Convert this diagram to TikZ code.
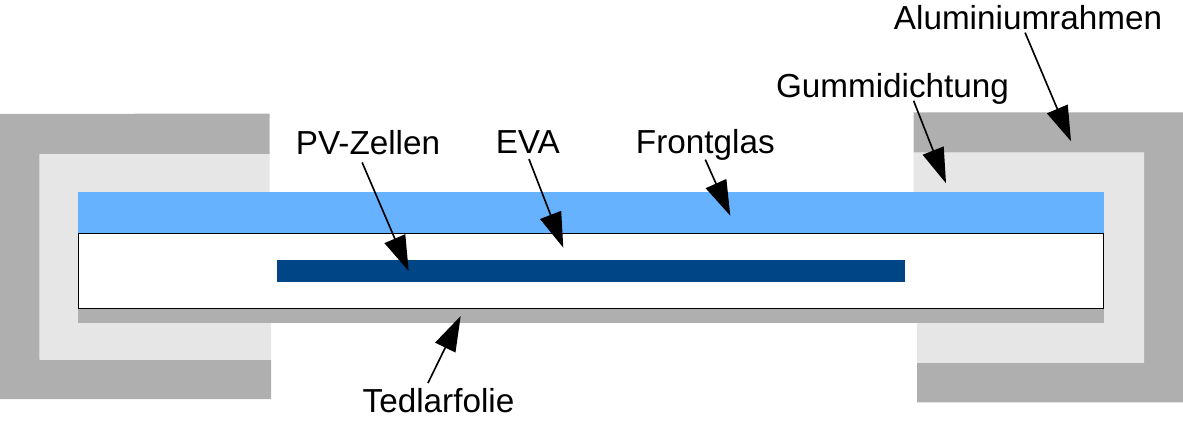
\documentclass[tikz,border=0pt]{standalone}
\usepackage{fontspec}
\setmainfont{Liberation Sans}
\usetikzlibrary{arrows.meta}
\definecolor{framegray}{HTML}{AFAFAF}
\definecolor{sealgray}{HTML}{E6E6E6}
\definecolor{glassblue}{HTML}{66B2FF}
\definecolor{cellblue}{HTML}{004586}
\begin{document}
\begin{tikzpicture}[x=0.03cm,y=-0.03cm,line join=miter,>={Triangle[length=30pt,width=19pt]},font=\fontsize{28.4}{34}\selectfont]
            \tikzset{lbl/.style={anchor=base,inner sep=0pt,text height=20pt,text depth=5pt},
                pointer/.style={->,line width=1.4pt,black}}
            \useasboundingbox (0,0) rectangle (1183,422);
            % frame, left and right
            \fill[framegray] (0,114)--(269.5,113.5)--(269.5,154)--(39.5,154)--(39.5,359.5)--(271,359.5)--(271,399)--(0,399)--cycle;
            \fill[framegray] (913.7,112.3)--(1183,112.3)--(1183,402.3)--(917,402.3)--(917,362.7)--(1144,362.7)--(1144,152.7)--(913.7,152.7)--cycle;
            % seal
            \fill[sealgray] (39.5,154)--(269.5,154)--(269.5,192)--(271,323)--(271,359.5)--(39.5,359.5)--cycle;
            \fill[sealgray] (913.7,152.7)--(1144,152.7)--(1144,362.7)--(917,362.7)--(917,323)--(913.7,192)--cycle;
            % layers
            \fill[framegray] (78,300) rectangle (1104,323);
            \fill[glassblue] (78,192) rectangle (1104,233.5);
            \draw[fill=white,line width=0.8pt] (78.5,233.5) rectangle (1103.5,308);
            \fill[cellblue] (276.7,260.3) rectangle (905.3,281.7);
            % labels
            \foreach \nm/\txt/\x/\y in {lblAlu/Aluminiumrahmen/1028/30,lblGum/Gummidichtung/892.5/97,lblPV/PV-Zellen/368/154,lblEVA/EVA/527.8/153,lblFront/Frontglas/705.3/153.5,lblTed/Tedlarfolie/438.5/412}
            \node[lbl] (\nm) at (\x,\y) {\txt};
            % arrow tips
            \foreach \nm/\x/\y in {tipAlu/1071/141.3,tipGum/946/183.3,tipPV/408.7/271,tipEVA/563.3/247.7,tipFront/730.3/215.7,tipTed/460.7/316}
            \coordinate (\nm) at (\x,\y);
            \draw[pointer] ([xshift=-2.5pt,yshift=3pt]lblAlu.south)--(tipAlu);
            \draw[pointer] ([xshift=18pt,yshift=2pt]lblGum.south)--(tipGum);
            \draw[pointer] ([xshift=-5pt,yshift=-2pt]lblPV.south)--(tipPV);
            \draw[pointer] ([xshift=1pt]lblEVA.south)--(tipEVA);
            \draw[pointer] (lblFront.south)--(tipFront);
            \draw[pointer] ([xshift=-9pt,yshift=4.5pt]lblTed.north)--(tipTed);
        \end{tikzpicture}
\end{document}
